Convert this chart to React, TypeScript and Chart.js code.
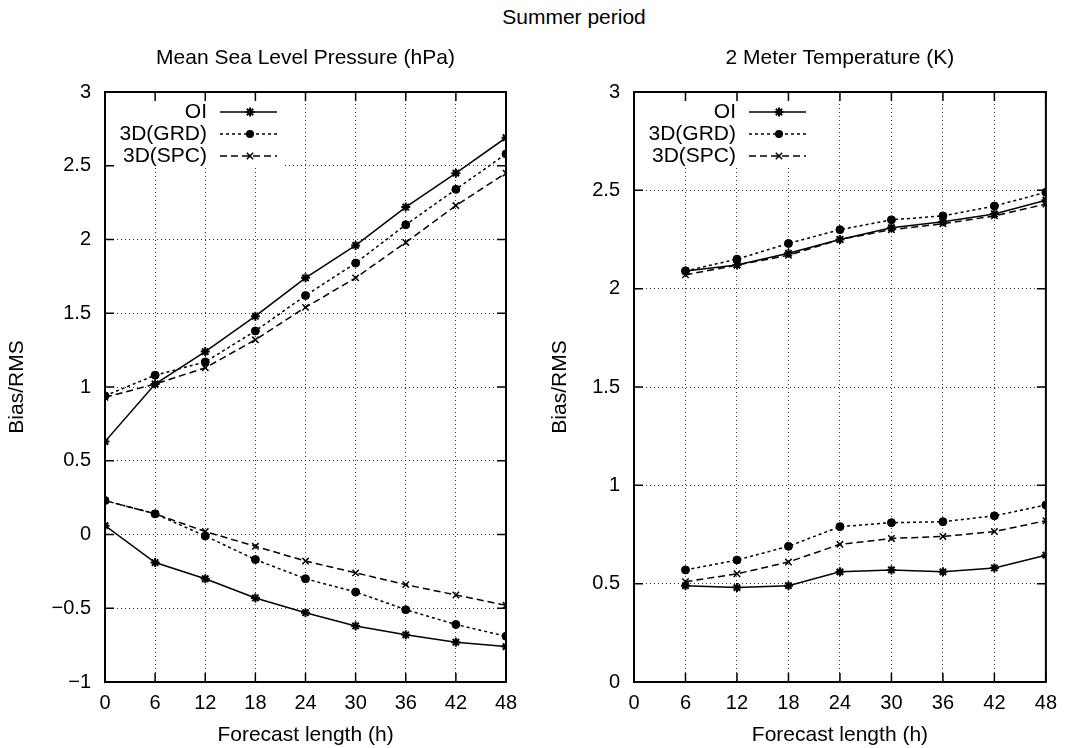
import React, { useEffect, useRef } from 'react';
import { Chart, registerables } from 'chart.js';

Chart.register(...registerables);

// ---------- data ----------
const suptitle = 'Summer period';
const leftTitle = 'Mean Sea Level Pressure (hPa)';
const rightTitle = '2 Meter Temperature (K)';
const xTitle = 'Forecast length (h)';
const yTitle = 'Bias/RMS';
const seriesNames = ['OI', '3D(GRD)', '3D(SPC)'];

const mslpHours = [0, 6, 12, 18, 24, 30, 36, 42, 48];
const mslpOiRms = [0.63, 1.02, 1.24, 1.48, 1.74, 1.96, 2.22, 2.45, 2.69];
const mslpGrdRms = [0.94, 1.08, 1.17, 1.38, 1.62, 1.84, 2.10, 2.34, 2.58];
const mslpSpcRms = [0.93, 1.02, 1.13, 1.32, 1.54, 1.74, 1.98, 2.23, 2.45];
const mslpOiBias = [0.06, -0.19, -0.30, -0.43, -0.53, -0.62, -0.68, -0.73, -0.76];
const mslpGrdBias = [0.23, 0.14, -0.01, -0.17, -0.30, -0.39, -0.51, -0.61, -0.69];
const mslpSpcBias = [0.23, 0.14, 0.02, -0.08, -0.18, -0.26, -0.34, -0.41, -0.48];

const t2mHours = [6, 12, 18, 24, 30, 36, 42, 48];
const t2mOiRms = [2.09, 2.12, 2.18, 2.25, 2.31, 2.34, 2.38, 2.45];
const t2mGrdRms = [2.09, 2.15, 2.23, 2.30, 2.35, 2.37, 2.42, 2.49];
const t2mSpcRms = [2.07, 2.12, 2.17, 2.25, 2.30, 2.33, 2.37, 2.43];
const t2mOiBias = [0.49, 0.48, 0.49, 0.56, 0.57, 0.56, 0.58, 0.645];
const t2mGrdBias = [0.57, 0.62, 0.69, 0.79, 0.81, 0.815, 0.845, 0.90];
const t2mSpcBias = [0.51, 0.55, 0.61, 0.70, 0.73, 0.74, 0.765, 0.82];

const xMin = 0, xMax = 48, xStep = 6;
const mslpYMin = -1, mslpYMax = 3;
const t2mYMin = 0, t2mYMax = 3;
const yStep = 0.5;

// ---------- styles ----------
const FONT = '"Liberation Sans", Arial, Helvetica, sans-serif';
const styles = [
  { dash: [] as number[], point: 'star', radius: 4.5, pw: 2 },
  { dash: [3, 3], point: 'circle', radius: 4, pw: 1 },
  { dash: [7, 4], point: 'crossRot', radius: 4.5, pw: 1.5 },
];

function drawMarker(ctx: CanvasRenderingContext2D, kind: string, x: number, y: number, r: number, w: number) {
  ctx.save();
  ctx.setLineDash([]);
  ctx.strokeStyle = '#000';
  ctx.fillStyle = '#000';
  ctx.lineWidth = w;
  ctx.beginPath();
  if (kind === 'circle') {
    ctx.arc(x, y, r, 0, Math.PI * 2);
    ctx.fill();
  } else {
    const d = r * Math.SQRT1_2;
    ctx.moveTo(x - d, y - d); ctx.lineTo(x + d, y + d);
    ctx.moveTo(x - d, y + d); ctx.lineTo(x + d, y - d);
    if (kind === 'star') {
      ctx.moveTo(x - r, y); ctx.lineTo(x + r, y);
      ctx.moveTo(x, y - r); ctx.lineTo(x, y + r);
    }
    ctx.stroke();
  }
  ctx.restore();
}

const legendPlugin = {
  id: 'gnuLegend',
  afterDatasetsDraw(chart: any) {
    const { ctx, chartArea: a } = chart;
    ctx.save();
    ctx.fillStyle = '#fff';
    ctx.fillRect(a.left + 1, a.top + 1, 179, 74);
    ctx.font = `21px ${FONT}`;
    ctx.textAlign = 'right';
    ctx.textBaseline = 'middle';
    seriesNames.forEach((name, i) => {
      const y = a.top + 20 + i * 22;
      const st = styles[i];
      ctx.fillStyle = '#000';
      ctx.fillText(name, a.left + 102, y);
      ctx.strokeStyle = '#000';
      ctx.lineWidth = 1.5;
      ctx.setLineDash(st.dash);
      ctx.beginPath();
      ctx.moveTo(a.left + 115, y);
      ctx.lineTo(a.left + 172, y);
      ctx.stroke();
      ctx.setLineDash([]);
      drawMarker(ctx, st.point, a.left + 145, y, st.radius, st.pw);
    });
    ctx.restore();
  },
};

const framePlugin = {
  id: 'gnuFrame',
  afterDraw(chart: any) {
    const { ctx, chartArea: a, scales } = chart;
    const x = scales.x, y = scales.y;
    const tl = 9;
    ctx.save();
    ctx.setLineDash([]);
    ctx.strokeStyle = '#000';
    ctx.lineWidth = 1.5;
    ctx.beginPath();
    x.ticks.forEach((t: any) => {
      const px = x.getPixelForValue(t.value);
      ctx.moveTo(px, a.bottom); ctx.lineTo(px, a.bottom - tl);
      ctx.moveTo(px, a.top); ctx.lineTo(px, a.top + tl);
    });
    y.ticks.forEach((t: any) => {
      const py = y.getPixelForValue(t.value);
      ctx.moveTo(a.left, py); ctx.lineTo(a.left + tl, py);
      ctx.moveTo(a.right, py); ctx.lineTo(a.right - tl, py);
    });
    ctx.stroke();
    ctx.lineWidth = 2;
    ctx.strokeRect(a.left, a.top, a.right - a.left, a.bottom - a.top);
    ctx.restore();
  },
};

function makeDatasets(xs: number[], rms: number[][], bias: number[][]) {
  const out: any[] = [];
  for (let i = 0; i < 3; i++) {
    const st = styles[i];
    [rms[i], bias[i]].forEach((vals, k) => {
      out.push({
        label: seriesNames[i] + (k === 0 ? ' RMS' : ' bias'),
        data: xs.map((h, j) => ({ x: h, y: vals[j] })),
        borderColor: '#000',
        backgroundColor: '#000',
        borderWidth: 1.5,
        borderDash: st.dash,
        pointStyle: st.point,
        pointRadius: st.radius,
        pointBorderWidth: st.pw,
        pointBorderColor: '#000',
        pointBackgroundColor: '#000',
        tension: 0,
        fill: false,
        showLine: true,
      });
    });
  }
  return out;
}

function fmt(v: number) {
  const s = String(Math.abs(Math.round(v * 100) / 100));
  return (v < 0 ? '\u2212' : '') + s;
}

function makeConfig(title: string, datasets: any[], yMin: number, yMax: number, yAxisWidth: number, yTitlePad: number, padRight: number) {
  return {
    type: 'line',
    data: { datasets },
    options: {
      animation: false,
      responsive: false,
      maintainAspectRatio: false,
      layout: { padding: { left: 0, right: padRight, top: 0, bottom: 0 } },
      plugins: {
        legend: { display: false },
        tooltip: { enabled: false },
        title: {
          display: true,
          text: title,
          fullSize: false,
          color: '#000',
          font: { family: FONT, size: 21, weight: 'normal' },
          padding: { top: 45.4, bottom: 21.4 },
        },
      },
      scales: {
        x: {
          type: 'linear',
          min: xMin,
          max: xMax,
          afterFit: (s: any) => { s.height = 66; },
          ticks: { stepSize: xStep, color: '#000', padding: 9, font: { family: FONT, size: 20 }, maxRotation: 0, autoSkip: false },
          grid: { color: '#000', lineWidth: 0.8, drawTicks: false },
          border: { display: false, dash: [1, 3] },
          title: { display: true, text: xTitle, color: '#000', font: { family: FONT, size: 21 }, padding: { top: 0, bottom: 0 } },
        },
        y: {
          type: 'linear',
          min: yMin,
          max: yMax,
          afterFit: (s: any) => { s.width = yAxisWidth; },
          ticks: { stepSize: yStep, color: '#000', padding: 14, font: { family: FONT, size: 20 }, callback: (v: number) => fmt(v), autoSkip: false },
          grid: { color: '#000', lineWidth: 0.8, drawTicks: false },
          border: { display: false, dash: [1, 3] },
          title: { display: true, text: yTitle, color: '#000', font: { family: FONT, size: 21 }, padding: { top: yTitlePad, bottom: 0 } },
        },
      },
    },
    plugins: [legendPlugin, framePlugin],
  };
}

export default function App() {
  const leftRef = useRef<HTMLCanvasElement>(null);
  const rightRef = useRef<HTMLCanvasElement>(null);

  useEffect(() => {
    Chart.defaults.font.family = FONT;
    Chart.defaults.color = '#000';
    const left = new Chart(leftRef.current as HTMLCanvasElement, makeConfig(
      leftTitle,
      makeDatasets(mslpHours, [mslpOiRms, mslpGrdRms, mslpSpcRms], [mslpOiBias, mslpGrdBias, mslpSpcBias]),
      mslpYMin, mslpYMax, 105, 4.9, 24) as any);
    const right = new Chart(rightRef.current as HTMLCanvasElement, makeConfig(
      rightTitle,
      makeDatasets(t2mHours, [t2mOiRms, t2mGrdRms, t2mSpcRms], [t2mOiBias, t2mGrdBias, t2mSpcBias]),
      t2mYMin, t2mYMax, 104, 17.4, 20) as any);
    return () => { left.destroy(); right.destroy(); };
  }, []);

  return (
    <div style={{ position: 'absolute', left: 0, top: 0, width: 1066, height: 748, background: '#fff', overflow: 'hidden' }}>
      <div style={{ position: 'absolute', left: 474, top: 6, width: 200, textAlign: 'center', font: `21px ${FONT}`, lineHeight: '21px', color: '#000', whiteSpace: 'nowrap' }}>
        {suptitle}
      </div>
      <canvas ref={leftRef} width={530} height={748} style={{ position: 'absolute', left: 0, top: 0, width: 530, height: 748 }} />
      <canvas ref={rightRef} width={536} height={748} style={{ position: 'absolute', left: 530, top: 0, width: 536, height: 748 }} />
    </div>
  );
}
